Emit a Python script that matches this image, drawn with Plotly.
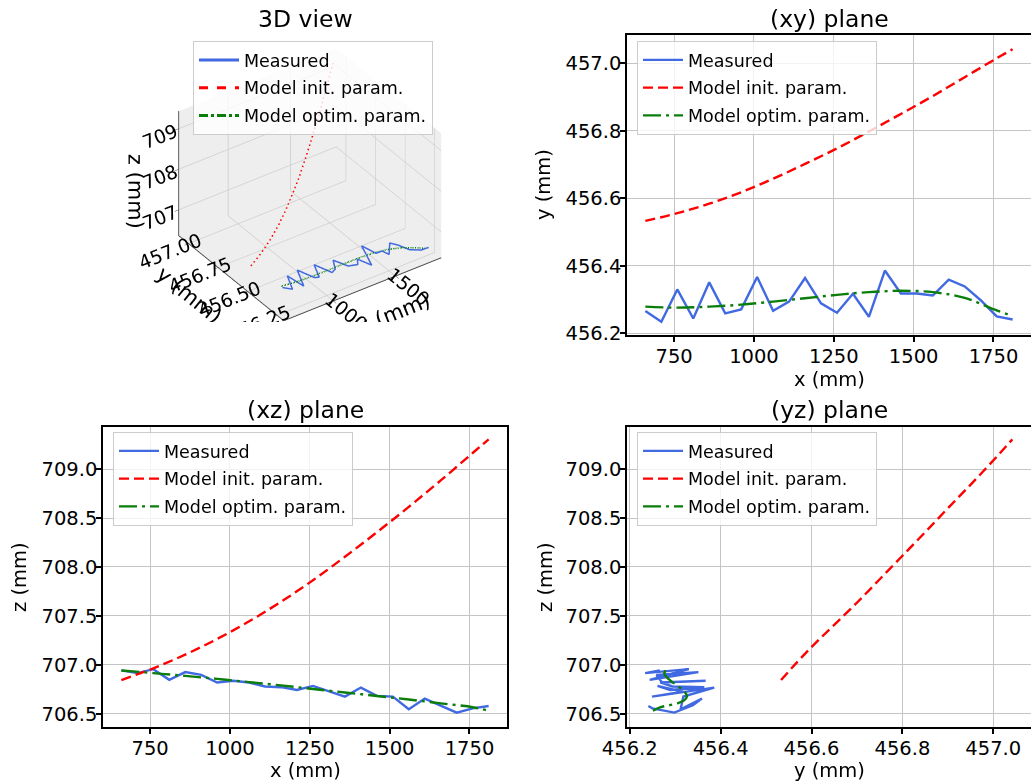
import plotly.graph_objects as go

# ---------------- data ----------------
x_meas = [660, 710, 760, 810, 860, 910, 960, 1010, 1060, 1110, 1160, 1210,
          1260, 1310, 1360, 1410, 1460, 1510, 1560, 1610, 1660, 1710, 1760, 1810]
y_meas = [456.266, 456.234, 456.330, 456.244, 456.351, 456.259, 456.271, 456.367,
          456.267, 456.294, 456.364, 456.289, 456.261, 456.317, 456.249, 456.386,
          456.318, 456.318, 456.312, 456.359, 456.339, 456.298, 456.250, 456.241]
z_meas = [706.942, 706.915, 706.955, 706.846, 706.925, 706.897, 706.819, 706.836,
          706.819, 706.778, 706.771, 706.743, 706.784, 706.726, 706.675, 706.767,
          706.682, 706.675, 706.545, 706.654, 706.586, 706.511, 706.555, 706.579]

x_model = [660, 760, 860, 960, 1060, 1160, 1260, 1360, 1460, 1560, 1660, 1760, 1810]
y_init = [456.533, 456.556, 456.584, 456.618, 456.658, 456.702, 456.748, 456.798,
          456.850, 456.903, 456.959, 457.015, 457.042]
z_init = [706.844, 706.964, 707.104, 707.264, 707.444, 707.644, 707.864, 708.104,
          708.354, 708.614, 708.884, 709.164, 709.304]
y_opt = [456.279, 456.276, 456.279, 456.285, 456.294, 456.304, 456.314, 456.322,
         456.326, 456.322, 456.305, 456.268, 456.251]
z_opt = [706.942, 706.915, 706.886, 706.856, 706.823, 706.789, 706.753, 706.717,
         706.681, 706.645, 706.606, 706.566, 706.530]

names = ["Measured", "Model init. param.", "Model optim. param."]
x_ticks = [750, 1000, 1250, 1500, 1750]
y_ticks = [456.2, 456.4, 456.6, 456.8, 457.0]
z_ticks = [706.5, 707.0, 707.5, 708.0, 708.5, 709.0]
titles = ["3D view", "(xy) plane", "(xz) plane", "(yz) plane"]

# ---------------- styles ----------------
W, H = 1031, 783
FONT = "DejaVu Sans"
BLUE = "#4169e1"
RED = "#ff0000"
GREEN = "#0a7d0a"
LW = 2.4
TICK_FS = 19.5
LAB_FS = 19.5
TITLE_FS = 23.5
LEG_FS = 17.5


def px(v):
    return v / W


def py(v):
    return 1 - v / H


fig = go.Figure()

# 3D view
fig.add_trace(go.Scatter3d(x=x_meas, y=y_meas, z=z_meas, mode="lines", name=names[0],
                           line=dict(color=BLUE, width=3), legend="legend",
                           legendgroup="m3"))
fig.add_trace(go.Scatter3d(x=x_model, y=y_init, z=z_init, mode="lines", name=names[1],
                           line=dict(color=RED, width=3, dash="dash"), legend="legend",
                           legendgroup="i3"))
fig.add_trace(go.Scatter3d(x=x_model, y=y_opt, z=z_opt, mode="lines", name=names[2],
                           line=dict(color=GREEN, width=3, dash="dashdot"), legend="legend",
                           legendgroup="o3"))

panels = [
    ("x", "y", x_meas, y_meas, x_model, y_init, x_model, y_opt, "legend2"),
    ("x2", "y2", x_meas, z_meas, x_model, z_init, x_model, z_opt, "legend3"),
    ("x3", "y3", y_meas, z_meas, y_init, z_init, y_opt, z_opt, "legend4"),
]
for xa, ya, hx, hy, rx, ry, gx, gy, lg in panels:
    fig.add_trace(go.Scatter(x=hx, y=hy, mode="lines", name=names[0], xaxis=xa, yaxis=ya,
                             line=dict(color=BLUE, width=LW), legend=lg,
                             legendgroup=lg + "m"))
    fig.add_trace(go.Scatter(x=rx, y=ry, mode="lines", name=names[1], xaxis=xa, yaxis=ya,
                             line=dict(color=RED, width=LW, dash="10px,5px",
                                       shape="spline", smoothing=1.0), legend=lg,
                             legendgroup=lg + "i"))
    fig.add_trace(go.Scatter(x=gx, y=gy, mode="lines", name=names[2], xaxis=xa, yaxis=ya,
                             line=dict(color=GREEN, width=LW, dash="18px,5px,3px,5px",
                                       shape="spline", smoothing=1.0), legend=lg,
                             legendgroup=lg + "o"))

axis_common = dict(showline=True, linecolor="black", linewidth=1.5, mirror=True,
                   ticks="outside", ticklen=5, tickwidth=1.5, tickcolor="black",
                   showgrid=True, gridcolor="#c4c4c4", gridwidth=1.4, zeroline=False,
                   tickfont=dict(family=FONT, size=TICK_FS, color="black"),
                   automargin=False)
xax = dict(axis_common, ticklabelstandoff=-2)
yax = dict(axis_common, ticklabelstandoff=-5)

dom_right = [px(627), px(1031)]
dom_left = [px(103), px(507)]
dom_top = [py(335), py(35)]
dom_bot = [py(727), py(427)]

fig.update_layout(
    xaxis=dict(xax, domain=dom_right, anchor="y", range=[602.5, 1867.5],
               tickvals=x_ticks),
    yaxis=dict(yax, domain=dom_top, anchor="x", range=[456.195, 457.084],
               tickvals=y_ticks, tickformat=".1f"),
    xaxis2=dict(xax, domain=dom_left, anchor="y2", range=[602.5, 1867.5],
                tickvals=x_ticks),
    yaxis2=dict(yax, domain=dom_bot, anchor="x2", range=[706.364, 709.43],
                tickvals=z_ticks, tickformat=".1f"),
    xaxis3=dict(xax, domain=dom_right, anchor="y3", range=[456.194, 457.083],
                tickvals=y_ticks, tickformat=".1f"),
    yaxis3=dict(yax, domain=dom_bot, anchor="x3", range=[706.364, 709.43],
                tickvals=z_ticks, tickformat=".1f"),
)

scene_axis = dict(showbackground=True, backgroundcolor="#eeeeee", gridcolor="#cccccc",
                  gridwidth=1.5, showline=True, linecolor="#444444", linewidth=2,
                  ticks="outside", tickcolor="#444444", zeroline=False,
                  tickfont=dict(family=FONT, size=15, color="black"),
                  showspikes=False)
scene_title_font = dict(family=FONT, size=21, color="black")

fig.update_layout(
    scene=dict(
        domain=dict(x=[px(115), px(505)], y=[py(322), py(47)]),
        xaxis=dict(scene_axis, range=[602.5, 1867.5], tickvals=[1000, 1500],
                   title=dict(text="x (mm)", font=scene_title_font)),
        yaxis=dict(scene_axis, range=[456.194, 457.083],
                   tickvals=[456.25, 456.5, 456.75, 457.0],
                   ticktext=["456.25", "456.50", "456.75", "457.00"],
                   title=dict(text="y (mm)", font=scene_title_font)),
        zaxis=dict(scene_axis, range=[706.364, 709.43], tickvals=[707, 708, 709],
                   title=dict(text="z (mm)", font=scene_title_font)),
        aspectmode="manual",
        aspectratio=dict(x=1.4, y=1.33, z=1.1),
        camera=dict(eye=dict(x=-0.965, y=-1.373, z=1.161), center=dict(x=0, y=0, z=0),
                    projection=dict(type="orthographic")),
        bgcolor="white",
    )
)

leg_common = dict(bgcolor="rgba(255,255,255,0.8)", bordercolor="#cccccc", borderwidth=1,
                  font=dict(family=FONT, size=LEG_FS, color="black"),
                  xanchor="left", yanchor="top", itemwidth=40, tracegroupgap=2)
fig.update_layout(
    legend=dict(leg_common, x=px(193), y=py(41)),
    legend2=dict(leg_common, x=px(637), y=py(41)),
    legend3=dict(leg_common, x=px(113), y=py(432)),
    legend4=dict(leg_common, x=px(637), y=py(432)),
)

annotations = []
title_pos = [(305, 19), (829, 19), (305, 410), (829, 410)]
for t, (tx, ty) in zip(titles, title_pos):
    annotations.append(dict(text=t, x=px(tx), y=py(ty), xref="paper", yref="paper",
                            showarrow=False, xanchor="center", yanchor="middle",
                            borderpad=0,
                            font=dict(family=FONT, size=TITLE_FS, color="black")))
axis_titles = [
    ("x (mm)", 829, 380, 0), ("y (mm)", 543, 185, -90),
    ("x (mm)", 305, 770, 0), ("z (mm)", 19, 577, -90),
    ("y (mm)", 829, 770, 0), ("z (mm)", 545, 577, -90),
]
for t, tx, ty, ang in axis_titles:
    annotations.append(dict(text=t, x=px(tx), y=py(ty), xref="paper", yref="paper",
                            showarrow=False, xanchor="center", yanchor="middle",
                            textangle=ang, borderpad=0,
                            font=dict(family=FONT, size=LAB_FS, color="black")))

fig.update_layout(
    width=W, height=H,
    margin=dict(l=0, r=0, t=0, b=0),
    paper_bgcolor="white", plot_bgcolor="white",
    font=dict(family=FONT, color="black"),
    annotations=annotations,
    showlegend=True,
)

# the browser's default 8px body margin would shift the figure; remove it
fig.write_html("out.html",
               config={"displayModeBar": False},
               post_script="document.body.style.margin='0px';"
                           "document.body.style.overflow='hidden';")
